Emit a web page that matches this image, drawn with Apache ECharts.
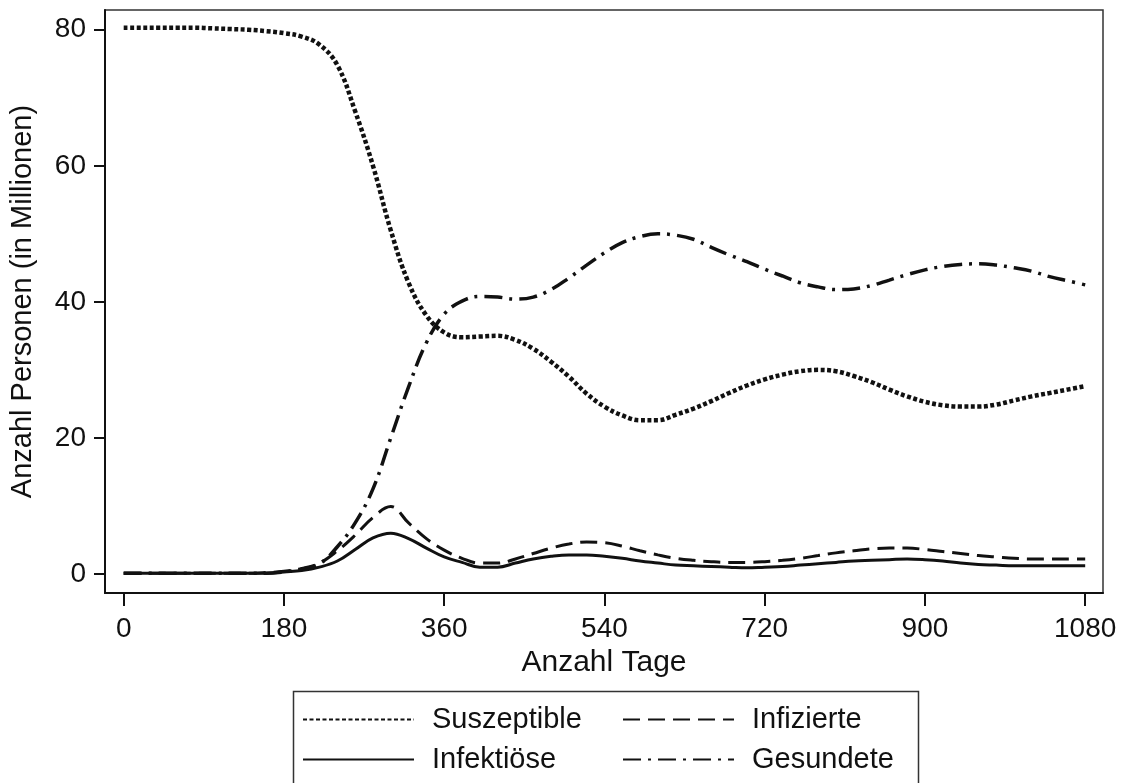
<!DOCTYPE html>
<html>
<head>
<meta charset="utf-8">
<script src="https://cdn.jsdelivr.net/npm/echarts@6/dist/echarts.min.js"></script>
<style>
html,body{margin:0;padding:0;background:#fff;}
#chart{width:1126px;height:783px;}
</style>
</head>
<body>
<div id="chart"></div>
<script>
const days = [0,20,40,60,80,100,120,140,160,180,200,220,240,260,280,300,320,340,360,380,400,420,440,460,480,500,520,540,560,580,600,620,640,660,680,700,720,740,760,780,800,820,840,860,880,900,920,940,960,980,1000,1020,1040,1060,1080];
const suszeptible = [80.3,80.3,80.3,80.3,80.3,80.2,80.1,80.0,79.8,79.5,79.0,77.8,74.8,68.0,60.0,50.5,42.8,38.0,35.5,34.8,34.9,35.0,34.4,33.1,31.2,29.0,26.5,24.6,23.3,22.6,22.6,23.4,24.3,25.4,26.6,27.7,28.6,29.3,29.8,30.0,29.8,29.1,28.2,27.1,26.1,25.3,24.8,24.6,24.6,24.9,25.5,26.1,26.6,27.1,27.6];
const infizierte = [0.1,0.1,0.1,0.1,0.1,0.1,0.1,0.1,0.2,0.4,0.8,1.6,3.4,5.7,8.3,9.9,7.5,5.2,3.5,2.3,1.6,1.6,2.2,3.0,3.8,4.4,4.7,4.6,4.1,3.4,2.8,2.3,2.0,1.8,1.7,1.7,1.8,2.0,2.3,2.7,3.1,3.4,3.7,3.8,3.8,3.6,3.3,3.0,2.7,2.5,2.3,2.2,2.2,2.2,2.2];
const infektioese = [0.1,0.1,0.1,0.1,0.1,0.1,0.1,0.1,0.1,0.3,0.5,1.0,1.9,3.6,5.3,6.0,5.2,3.8,2.5,1.7,1.0,1.0,1.6,2.2,2.6,2.8,2.8,2.6,2.3,1.9,1.6,1.3,1.2,1.1,1.0,0.9,1.0,1.1,1.3,1.5,1.7,1.9,2.0,2.1,2.2,2.1,1.9,1.6,1.4,1.3,1.2,1.2,1.2,1.2,1.2];
const gesundete = [0.1,0.1,0.1,0.1,0.1,0.1,0.1,0.1,0.1,0.3,0.7,1.5,4.0,7.5,12.5,20.0,27.5,34.0,38.2,40.1,40.8,40.7,40.4,40.7,41.8,43.5,45.4,47.2,48.7,49.6,50.0,49.8,49.2,48.0,46.9,45.9,44.8,43.8,42.8,42.2,41.8,41.9,42.4,43.2,44.0,44.7,45.2,45.5,45.6,45.4,45.0,44.5,43.7,43.1,42.5];
const xTicks = [0,180,360,540,720,900,1080];
const yTicks = [0,20,40,60,80];
const names = ['Suszeptible','Infizierte','Infektiöse','Gesundete'];

const FONT = '"Liberation Sans", Arial, sans-serif';
const INK = '#111';
function pairs(vals){ return days.map((d,i)=>[d, vals[i]]); }

const chart = echarts.init(document.getElementById('chart'), null, {renderer:'canvas'});
function legendAt(name, left, top){
  return {
    data:[name], left:left, top:top, padding:0, itemWidth:111, itemHeight:14,
    itemStyle:{opacity:0},
    textStyle:{fontFamily:FONT, fontSize:29, color:INK, padding:[0,0,0,13]},
    selectedMode:false
  };
}
const option = {
  animation:false,
  backgroundColor:'#fff',
  grid:{left:104, right:23, top:10, bottom:190, show:true, borderColor:'#333', borderWidth:1.5, containLabel:false},
  xAxis:{
    type:'value', min:-21, max:1100,
    name:'Anzahl Tage', nameLocation:'middle', nameGap:43,
    nameTextStyle:{fontFamily:FONT, fontSize:30, color:INK},
    axisLine:{show:true, onZero:false, lineStyle:{color:INK, width:2}},
    axisTick:{show:true, length:13, lineStyle:{color:INK, width:2}, customValues:xTicks},
    axisLabel:{fontFamily:FONT, fontSize:28, color:INK, margin:22, customValues:xTicks, formatter:v=>String(v)},
    splitLine:{show:false}
  },
  yAxis:{
    type:'value', min:-2.8, max:82.9,
    name:'Anzahl Personen (in Millionen)', nameLocation:'middle', nameGap:68,
    nameTextStyle:{fontFamily:FONT, fontSize:29, color:INK},
    axisLine:{show:true, onZero:false, lineStyle:{color:INK, width:2}},
    axisTick:{show:true, length:11, lineStyle:{color:INK, width:2}, customValues:yTicks},
    axisLabel:{fontFamily:FONT, fontSize:28, color:INK, margin:19, customValues:yTicks, formatter:v=>String(v)},
    splitLine:{show:false}
  },
  legend:[
    legendAt('Suszeptible', 302, 705),
    legendAt('Infizierte', 622, 705),
    legendAt('Infektiöse', 302, 745),
    legendAt('Gesundete', 622, 745)
  ],
  graphic:[{
    type:'rect', left:291, top:689, silent:true,
    shape:{width:625, height:120},
    style:{fill:'none', stroke:'#333', lineWidth:1.5}
  }],
  series:[
    {name:'Suszeptible', type:'line', data:pairs(suszeptible), symbol:'none', smooth:0.4,
     lineStyle:{color:INK, width:4.5, type:[4,2.5], cap:'butt'}, itemStyle:{color:INK}},
    {name:'Infizierte', type:'line', data:pairs(infizierte), symbol:'none', smooth:0.4,
     lineStyle:{color:INK, width:3, type:[17,8], cap:'butt'}, itemStyle:{color:INK}},
    {name:'Infektiöse', type:'line', data:pairs(infektioese), symbol:'none', smooth:0.4,
     lineStyle:{color:INK, width:3, type:'solid'}, itemStyle:{color:INK}},
    {name:'Gesundete', type:'line', data:pairs(gesundete), symbol:'none', smooth:0.4,
     lineStyle:{color:INK, width:3.5, type:[18,7,3,7], cap:'butt'}, itemStyle:{color:INK}}
  ]
};
chart.setOption(option);
</script>
</body>
</html>
